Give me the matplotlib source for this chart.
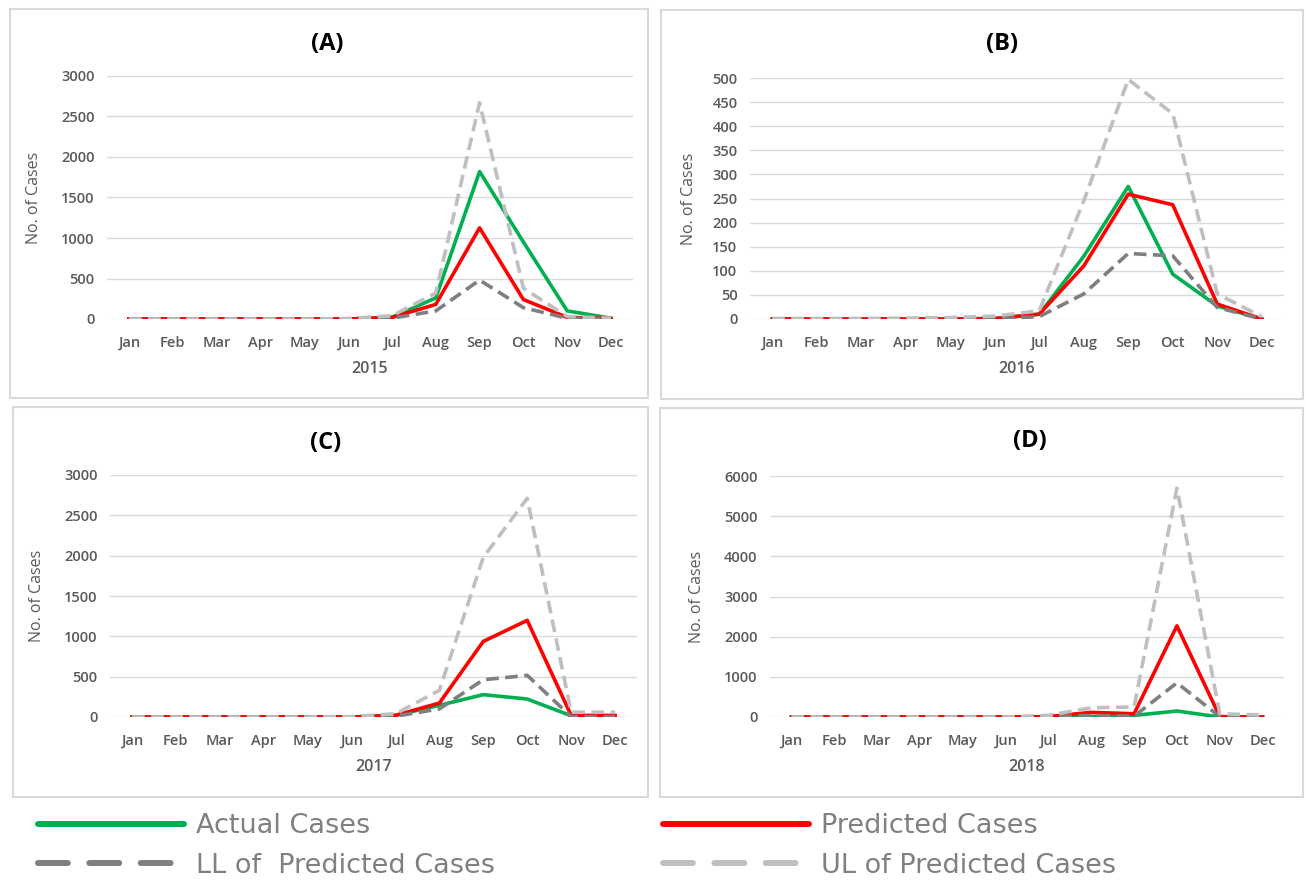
import matplotlib
matplotlib.use("Agg")
import matplotlib.pyplot as plt
from matplotlib.lines import Line2D
from matplotlib.patches import Rectangle

plt.rcParams['font.family'] = ['Open Sans', 'DejaVu Sans']

# month categories
months = ['Jan', 'Feb', 'Mar', 'Apr', 'May', 'Jun', 'Jul', 'Aug', 'Sep', 'Oct', 'Nov', 'Dec']

# 2015
actual_2015 = [0, 0, 0, 0, 0, 0, 20, 260, 1820, 950, 100, 10]
pred_2015 = [0, 0, 0, 0, 0, 0, 20, 180, 1125, 240, 20, 5]
ll_2015 = [0, 0, 0, 0, 0, 0, 10, 100, 480, 140, 10, 2]
ul_2015 = [0, 0, 0, 0, 0, 5, 40, 320, 2670, 380, 30, 10]

# 2016
actual_2016 = [0, 0, 0, 0, 0, 1, 10, 130, 275, 93, 27, 0]
pred_2016 = [0, 0, 0, 0, 0, 1, 10, 110, 259, 237, 31, 0]
ll_2016 = [0, 0, 0, 0, 0, 0, 5, 52, 136, 131, 24, 0]
ul_2016 = [1, 1, 1, 2, 3, 6, 17, 245, 497, 426, 52, 5]

# 2017
actual_2017 = [0, 0, 0, 0, 0, 0, 20, 145, 277, 223, 15, 5]
pred_2017 = [0, 0, 0, 0, 0, 0, 20, 173, 937, 1198, 20, 20]
ll_2017 = [0, 0, 0, 0, 0, 0, 10, 100, 462, 516, 5, 5]
ul_2017 = [0, 0, 0, 0, 0, 5, 40, 330, 1980, 2710, 60, 60]

# 2018
actual_2018 = [0, 0, 0, 0, 0, 0, 5, 10, 40, 149, 0, 0]
pred_2018 = [0, 0, 0, 0, 0, 0, 10, 115, 80, 2270, 10, 0]
ll_2018 = [0, 0, 0, 0, 0, 0, 5, 40, 20, 850, 10, 0]
ul_2018 = [0, 0, 0, 0, 0, 0, 40, 230, 250, 5700, 80, 50]

panels = [
    ('(A)', '2015', actual_2015, pred_2015, ll_2015, ul_2015, 3000, 500),
    ('(B)', '2016', actual_2016, pred_2016, ll_2016, ul_2016, 500, 50),
    ('(C)', '2017', actual_2017, pred_2017, ll_2017, ul_2017, 3000, 500),
    ('(D)', '2018', actual_2018, pred_2018, ll_2018, ul_2018, 6000, 1000),
]

W, H = 1306, 881
GREEN = '#00b050'
RED = '#ff0000'
LL_C = '#7f7f7f'
UL_C = '#bfbfbf'
TXT = '#595959'

fig = plt.figure(figsize=(W / 100, H / 100), dpi=100)


def px_rect(l, t, r, b):
    return [l / W, 1 - b / H, (r - l) / W, (b - t) / H]


# panel frames (left, top, right, bottom in pixels)
frames = [(10, 9, 648, 398), (661, 10, 1303, 399), (13, 407, 648, 797), (660, 408, 1303, 797)]
axes_px = [(107, 76, 633, 319), (750, 78, 1284, 319), (110, 475, 637, 717), (770, 476, 1284, 717)]
title_px = [(327, 44), (1002, 44), (326, 443), (1030, 441)]
ylabel_x = [42, 697, 45, 705]

for fr in frames:
    l, t, r, b = fr
    fig.patches.append(Rectangle((l / W, 1 - b / H), (r - l) / W, (b - t) / H,
                                 transform=fig.transFigure, fill=False,
                                 edgecolor='#d9d9d9', lw=1.5))

x = list(range(len(months)))
for i, (lab, year, act, pred, ll, ul, ymax, step) in enumerate(panels):
    ax = fig.add_axes(px_rect(*axes_px[i]))
    ax.plot(x, act, color=GREEN, lw=2.6)
    ax.plot(x, pred, color=RED, lw=2.6)
    ax.plot(x, ll, color=LL_C, lw=2.6, linestyle=(0, (3.5, 1.8)))
    ax.plot(x, ul, color=UL_C, lw=2.6, linestyle=(0, (3.5, 1.8)))
    ax.set_xlim(-0.5, 11.5)
    ax.set_ylim(0, ymax)
    ax.set_yticks(range(0, ymax + 1, step))
    ax.set_xticks(x)
    ax.set_xticklabels(months)
    ax.grid(axis='y', color='#d9d9d9', lw=1)
    ax.set_axisbelow(True)
    for s in ax.spines.values():
        s.set_visible(False)
    ax.tick_params(length=0, labelsize=10.5, labelcolor=TXT)
    ax.tick_params(axis='x', pad=12)
    ax.tick_params(axis='y', pad=9)
    for t in ax.get_xticklabels() + ax.get_yticklabels():
        t.set_fontweight('semibold')
    ax.set_xlabel(year, fontsize=11.5, color=TXT, fontweight='semibold', labelpad=8)
    ax.set_ylabel('No. of Cases', fontsize=11.5, color=TXT)
    l, t, r, b = axes_px[i]
    ax.yaxis.set_label_coords((ylabel_x[i] - l) / (r - l), 0.5)
    tx, ty = title_px[i]
    fig.text(tx / W, 1 - ty / H, lab, fontsize=17, fontweight='bold',
             ha='center', va='center', color='black')

# legend, two columns placed separately
dash = (0, (5.0, 3.6))
h_act = Line2D([], [], color=GREEN, lw=4.3, solid_capstyle='round')
h_pred = Line2D([], [], color=RED, lw=4.3, solid_capstyle='round')
h_ll = Line2D([], [], color=LL_C, lw=4.3, linestyle=dash, dash_capstyle='round')
h_ul = Line2D([], [], color=UL_C, lw=4.3, linestyle=dash, dash_capstyle='round')

leg_kw = dict(loc='upper left', frameon=False, labelcolor='#808080',
              handlelength=5.4, handletextpad=0.45, borderpad=0, borderaxespad=0,
              labelspacing=0.5, prop={'family': 'DejaVu Sans', 'size': 19.5})
fig.legend([h_act, h_ll], ['Actual Cases', 'LL of  Predicted Cases'],
           bbox_to_anchor=(38 / W, 1 - 813 / H), **leg_kw)
fig.legend([h_pred, h_ul], ['Predicted Cases', 'UL of Predicted Cases'],
           bbox_to_anchor=(663 / W, 1 - 813 / H), **leg_kw)

fig.savefig('out.png', dpi=100)
